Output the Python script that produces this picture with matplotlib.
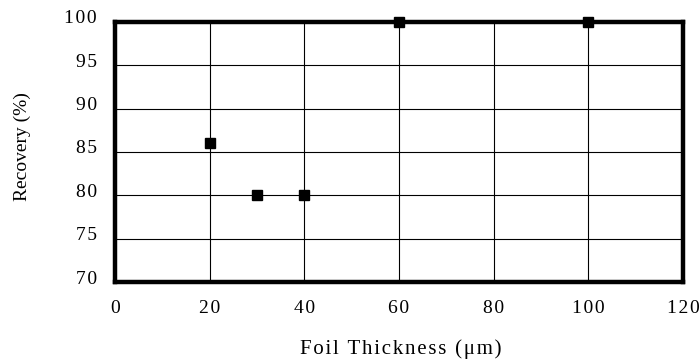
import matplotlib
matplotlib.use("Agg")
import matplotlib.pyplot as plt
import matplotlib.transforms as mtrans

thickness = [20, 30, 40, 60, 100]
recovery = [86, 80, 80, 100, 100]
xticks = [0, 20, 40, 60, 80, 100, 120]
yticks = [70, 75, 80, 85, 90, 95, 100]

plt.rcParams['font.family'] = ['Liberation Serif', 'DejaVu Serif']
HS = '\u200a'

def spaced(s):
    return HS.join(str(s))

fig = plt.figure(figsize=(7, 3.64), dpi=100)
ax = fig.add_axes([0.164, 0.225, 0.812, 0.715])
ax.plot(thickness, recovery, linestyle='none', marker='s', markersize=7.5,
        color='black', clip_on=False, zorder=5)
ax.set_xlim(0, 120)
ax.set_ylim(70, 100)
ax.set_xticks(xticks)
ax.set_yticks(yticks)
ax.set_xticklabels([spaced(t) for t in xticks])
ax.set_yticklabels([spaced(t) for t in yticks])
ax.grid(True, color='black', linewidth=0.8)
ax.tick_params(axis='x', length=0, labelsize=14, pad=13)
ax.tick_params(axis='y', length=0, labelsize=14, pad=13)
off = mtrans.ScaledTranslation(0, 5 / 100, fig.dpi_scale_trans)
for lab in ax.get_yticklabels():
    lab.set_transform(lab.get_transform() + off)
for s in ax.spines.values():
    s.set_linewidth(3.2)
fig.text(401 / 700, 1 - 349 / 364, spaced('Foil Thickness (μm)'), fontsize=15,
         ha='center', va='center')
fig.text(22 / 700, 1 - 147 / 364, 'Recovery (%)', fontsize=14,
         ha='center', va='center', rotation=90)
fig.savefig('out.png', dpi=100)
